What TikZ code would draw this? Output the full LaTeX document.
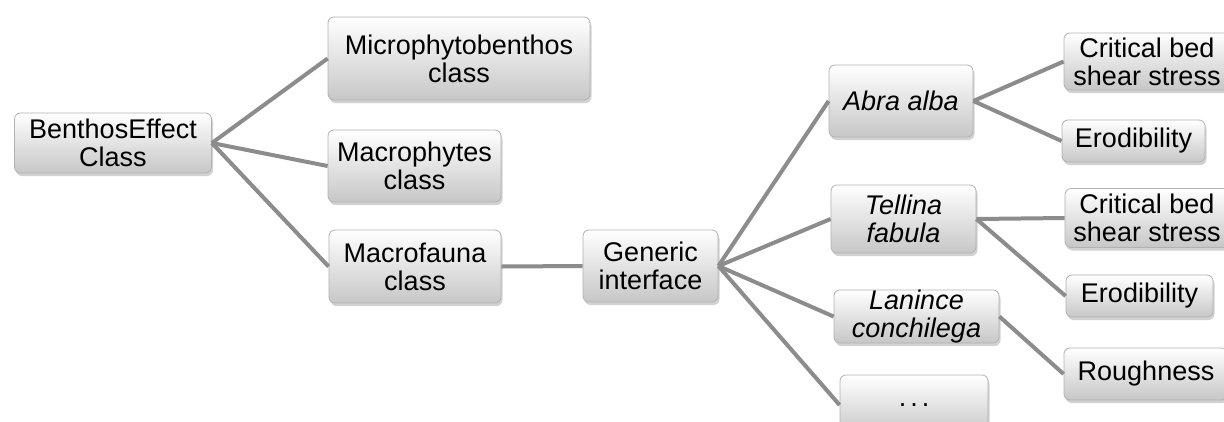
\documentclass[tikz,border=0pt]{standalone}
\usepackage{fontspec}
\setmainfont{Liberation Sans}
\usepackage{tikz}
\usetikzlibrary{shadows}
\usetikzlibrary{shapes}
\definecolor{branchgray}{RGB}{140,140,140}
\tikzstyle{box}=[rectangle,rounded corners=6pt,draw=black!30,line width=0.8pt,top color=white,bottom color=black!22,drop shadow={shadow xshift=1.5pt,shadow yshift=-3pt,opacity=0.35},align=center,inner xsep=4pt,inner ysep=0pt,font=\fontsize{27}{28}\selectfont]
\tikzstyle{speciesbox}=[box,font=\fontsize{27}{28}\selectfont\itshape]
\tikzstyle{branch} = [draw,line width=4pt,branchgray]

\begin{document}
\begin{tikzpicture}[x=1pt,y=-1pt]

    \useasboundingbox[fill=white] (0,0) rectangle (1224,421);

    \foreach \pos/\name/\w/\h/\label in {{(113,143)/benthos/197/60/BenthosEffect\\Class}, {(459,58.5)/micro/262/83/Microphytobenthos\\class},
        {(414.5,166)/macrophytes/173/72/Macrophytes\\class}, {(415,266.5)/macrofauna/172/73/Macrofauna\\class}, {(650.5,266)/generic/135/72/Generic\\interface},
        {(1147,61.5)/critA/166/57/Critical bed\\shear stress}, {(1133.5,141)/erodA/143/42/Erodibility}, {(1147,218)/critT/164/59/Critical bed\\shear stress},
        {(1139.5,296)/erodT/147/42/Erodibility}, {(1146,374)/rough/164/52/Roughness}, {(914,405)/more/148/60/.\hspace{4pt}.\hspace{4pt}.}}
        \node[box,minimum width=\w pt,minimum height=\h pt] (\name) at \pos {\label};

    \foreach \pos/\name/\w/\h/\label in {{(901,101)/abra/144/72/Abra alba}, {(903.5,219)/tellina/145/68/Tellina\\fabula}, {(916.5,316.5)/lanince/165/53/Lanince\\conchilega}}
        \node[speciesbox,minimum width=\w pt,minimum height=\h pt] (\name) at \pos {\label};

    \foreach \source/ \dest in {benthos/micro, benthos/macrophytes, benthos/macrofauna, macrofauna/generic, generic/abra, generic/tellina, generic/lanince, generic/more}
        \path[branch] (\source.east) -- (\dest.west);

    \foreach \source/ \dest in {abra/critA, abra/erodA, tellina/critT, tellina/erodT, lanince/rough}
        \path[branch] (\source.east) -- (\dest.west);

\end{tikzpicture}
\end{document}
